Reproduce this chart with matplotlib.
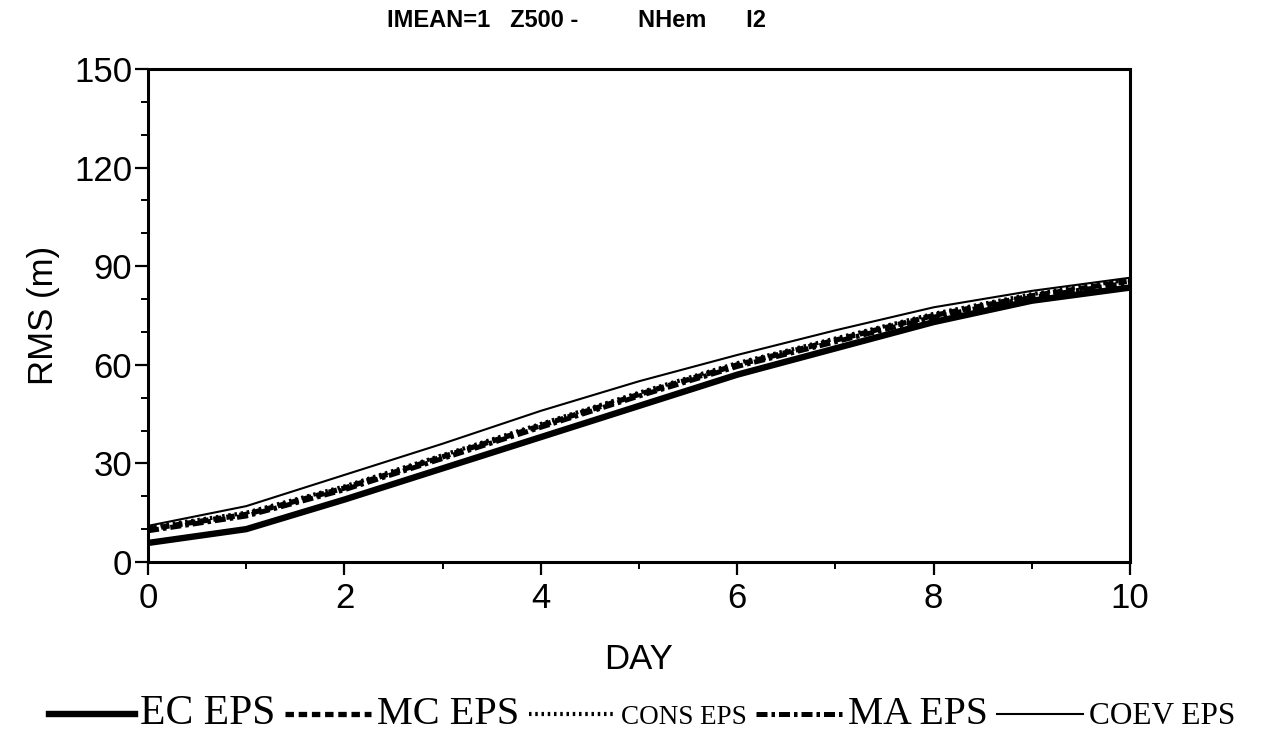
import matplotlib
matplotlib.use("Agg")
import matplotlib.pyplot as plt
from matplotlib.ticker import MultipleLocator

# RMS error of Z500 over the northern hemisphere, per forecast day
days = [0, 1, 2, 3, 4, 5, 6, 7, 8, 9, 10]
ec_eps = [5.8, 10.0, 19.0, 28.5, 38.0, 47.5, 57.0, 65.0, 73.0, 79.5, 83.5]
mc_eps = [10.0, 14.5, 22.5, 32.0, 41.5, 51.0, 60.0, 67.5, 75.0, 81.0, 85.5]
cons_eps = [10.5, 15.0, 23.0, 32.5, 42.0, 51.5, 60.5, 68.0, 75.5, 81.5, 86.0]
ma_eps = [9.5, 14.0, 22.0, 31.5, 41.0, 50.5, 59.5, 67.0, 74.5, 80.5, 85.0]
coev_eps = [11.0, 17.0, 26.5, 36.0, 46.0, 55.0, 63.0, 70.5, 77.5, 82.5, 86.5]

labels = ["EC EPS", "MC EPS", "CONS EPS", "MA EPS", "COEV EPS"]
label_sizes = [30, 29, 19.5, 28.5, 22.5]

sans = ["Liberation Sans", "DejaVu Sans"]
serif = ["Liberation Serif", "DejaVu Serif"]

fig = plt.figure(figsize=(12.84, 7.39), dpi=100)
ax = fig.add_axes([0.1153, 0.2395, 0.7648, 0.6671])

ax.plot(days, ec_eps, color="black", lw=4.6, ls="-", label=labels[0])
ax.plot(days, mc_eps, color="black", lw=3.8, ls=(0, (1.6, 0.9)), label=labels[1])
ax.plot(days, cons_eps, color="black", lw=3.0, ls=(0, (0.6, 0.9)), label=labels[2])
ax.plot(days, ma_eps, color="black", lw=3.6, ls=(0, (2.2, 0.8, 0.7, 0.8)), label=labels[3])
ax.plot(days, coev_eps, color="black", lw=1.5, ls="-", label=labels[4])

ax.set_xlim(0, 10)
ax.set_ylim(0, 150)
ax.xaxis.set_major_locator(MultipleLocator(2))
ax.xaxis.set_minor_locator(MultipleLocator(1))
ax.yaxis.set_major_locator(MultipleLocator(30))
ax.yaxis.set_minor_locator(MultipleLocator(10))
ax.tick_params(which="major", direction="out", length=9.5, width=1.6, labelsize=25, pad=2)
ax.tick_params(axis="x", which="major", pad=5)
ax.tick_params(which="minor", direction="out", length=5, width=1.4)
for lab in ax.get_xticklabels() + ax.get_yticklabels():
    lab.set_family(sans)
for side in ax.spines.values():
    side.set_linewidth(2.2)

ax.set_xlabel("DAY", fontsize=25, family=sans, labelpad=20)
ax.set_ylabel("RMS (m)", fontsize=25, family=sans, labelpad=10)

fig.text(0.449, 0.972, "IMEAN=1   Z500 -         NHem      I2",
         ha="center", va="center", fontsize=17, fontweight="bold", family=sans)

leg = fig.legend(loc="center", bbox_to_anchor=(0.5, 0.034), ncol=5, frameon=False,
                 prop={"family": serif, "size": 20}, handlelength=3.1,
                 handletextpad=0.2, columnspacing=0.35, borderaxespad=0)
for txt, size in zip(leg.get_texts(), label_sizes):
    txt.set_fontsize(size)

fig.savefig("out.png", dpi=100)
